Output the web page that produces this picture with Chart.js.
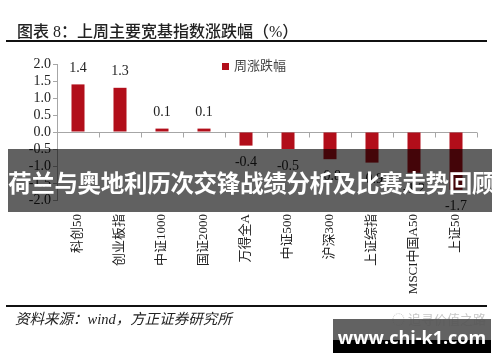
<!DOCTYPE html>
<html><head><meta charset="utf-8">
<script src="https://cdn.jsdelivr.net/npm/chart.js@4.4.0/dist/chart.umd.min.js"></script>
<style>
html,body{margin:0;padding:0;background:#fff;}
#wrap{position:relative;width:500px;height:362px;overflow:hidden;background:#fff;}
#c{position:absolute;left:0;top:0;}
.abs{position:absolute;white-space:nowrap;}
#title{left:17px;top:21px;font:500 16px "Liberation Serif","Noto Sans CJK SC";color:#222;line-height:22px;}
#rule1{left:6px;top:40px;width:481px;height:2px;background:#111;}
#rule2{left:6px;top:305px;width:481px;height:2px;background:#111;}
#src{left:15px;top:309px;font:italic 14.5px "Liberation Serif","Noto Sans CJK SC";color:#222;line-height:20px;}
#banner{left:8px;top:149px;width:484px;height:63px;background:rgba(0,0,0,0.62);}
#bannertext{left:8px;top:152px;width:484px;color:#fff;font:bold 23.5px "Noto Sans CJK SC";text-align:center;line-height:60px;letter-spacing:-0.3px;}
#wmt{left:392px;top:310px;font:13px "Noto Sans CJK SC";color:#c8c8c8;line-height:18px;}
#wm1{left:333px;top:319px;width:158px;height:21px;background:rgba(85,85,85,0.92);}
#wm2{left:333px;top:340px;width:158px;height:13px;background:#000;}
#wmtext{left:333px;top:325px;width:158px;text-align:center;font:bold 18px "Open Sans","DejaVu Sans";color:#fff;line-height:24px;}
</style></head>
<body><div id="wrap">
<canvas id="c" width="500" height="362"></canvas>
<div class="abs" id="title">图表 8：上周主要宽基指数涨跌幅（%）</div>
<div class="abs" id="rule1"></div>
<div class="abs" id="banner"></div>
<div class="abs" id="bannertext">荷兰与奥地利历次交锋战绩分析及比赛走势回顾</div>
<div class="abs" id="rule2"></div>
<div class="abs" id="src">资料来源：wind，方正证券研究所</div>
<div class="abs" id="wmt">◌ 追寻价值之路</div>
<div class="abs" id="wm1"></div>
<div class="abs" id="wm2"></div>
<div class="abs" id="wmtext">www.chi-k1.com</div>
</div>
<script>
const categories = ["科创50","创业板指","中证1000","国证2000","万得全A","中证500","沪深300","上证综指","MSCI中国A50","上证50"];
const weeklyChange = [1.4, 1.3, 0.1, 0.1, -0.4, -0.5, -0.8, -0.9, -1.2, -1.7];
const seriesName = "周涨跌幅";
const yTicks = [-2.0, -1.5, -1.0, -0.5, 0.0, 0.5, 1.0, 1.5, 2.0];

const barColor = "#B20E1A";
const serif = '"Liberation Serif","Noto Sans CJK SC"';

const zeroAxis = {
  id: "zeroAxis",
  beforeDatasetsDraw(chart) {
    const {ctx, scales: {x, y}, chartArea} = chart;
    const y0 = Math.round(y.getPixelForValue(0)) + 0.5;
    ctx.save();
    ctx.strokeStyle = "#a6a6a6";
    ctx.lineWidth = 1;
    ctx.beginPath();
    ctx.moveTo(chartArea.left, y0);
    ctx.lineTo(chartArea.right, y0);
    for (let i = 0; i < categories.length; i++) {
      const px = Math.round(x.getPixelForValue(i + 0.5)) + 0.5;
      ctx.moveTo(px, y0);
      ctx.lineTo(px, y0 + 5);
    }
    ctx.stroke();
    ctx.restore();
  }
};

const valueLabels = {
  id: "valueLabels",
  afterDatasetsDraw(chart) {
    const {ctx} = chart;
    const meta = chart.getDatasetMeta(0);
    ctx.save();
    ctx.font = "14px " + serif;
    ctx.fillStyle = "#222";
    ctx.textAlign = "center";
    ctx.textBaseline = "middle";
    meta.data.forEach((bar, i) => {
      const v = weeklyChange[i];
      const yy = v >= 0 ? bar.y - 16 : bar.y + 17;
      ctx.fillText(v.toFixed(1), bar.x, yy);
    });
    ctx.restore();
  }
};

const innerLegend = {
  id: "innerLegend",
  afterDraw(chart) {
    const {ctx, chartArea} = chart;
    const lx = chartArea.left + 165, ly = chartArea.top + 2;
    ctx.save();
    ctx.fillStyle = barColor;
    ctx.fillRect(lx, ly - 3, 7, 7);
    ctx.font = "13px " + serif;
    ctx.fillStyle = "#444";
    ctx.textBaseline = "middle";
    ctx.fillText(seriesName, lx + 12, ly + 1);
    ctx.restore();
  }
};

new Chart(document.getElementById("c"), {
  type: "bar",
  data: {
    labels: categories,
    datasets: [{
      label: seriesName,
      data: weeklyChange,
      backgroundColor: barColor,
      categoryPercentage: 1,
      barPercentage: 0.31
    }]
  },
  options: {
    responsive: false,
    animation: false,
    devicePixelRatio: 1,
    layout: {padding: {top: 64, right: 23, left: 0, bottom: 0}},
    plugins: {legend: {display: false}, tooltip: {enabled: false}},
    scales: {
      x: {
        grid: {display: false},
        border: {display: false},
        ticks: {
          autoSkip: false, maxRotation: 90, minRotation: 90,
          font: {family: serif, size: 13}, color: "#222", padding: 6
        },
        afterFit(s) { s.height = 162; }
      },
      y: {
        min: -2, max: 2,
        afterBuildTicks(s) { s.ticks = yTicks.map(v => ({value: v})); },
        ticks: {
          autoSkip: false,
          callback: v => Number(v).toFixed(1),
          font: {family: serif, size: 14}, color: "#222", padding: 2
        },
        grid: {drawOnChartArea: false, drawTicks: true, tickLength: 4, color: "#a6a6a6"},
        border: {display: true, color: "#a6a6a6"},
        afterFit(s) { s.width = 57; }
      }
    }
  },
  plugins: [zeroAxis, valueLabels, innerLegend]
});
</script>
</body></html>
